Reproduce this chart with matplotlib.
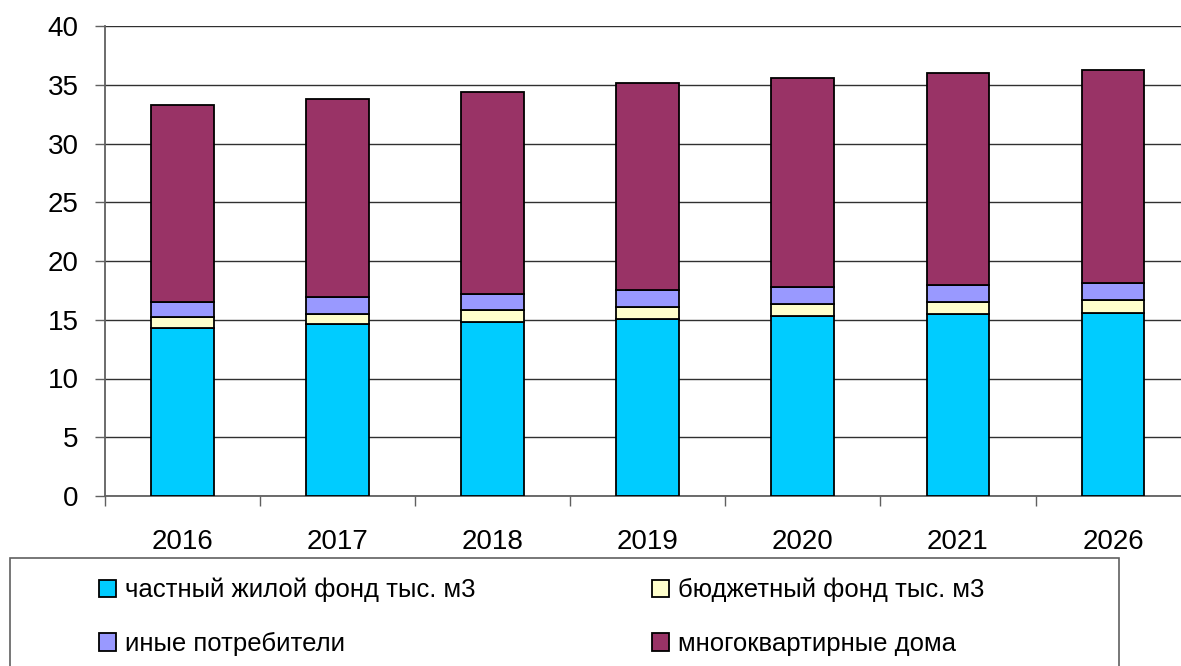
import numpy as np
import matplotlib
matplotlib.use("Agg")
from matplotlib import pyplot as plt
from matplotlib.patches import Rectangle

plt.rcParams['font.family'] = ['Liberation Sans', 'DejaVu Sans']

years = ['2016', '2017', '2018', '2019', '2020', '2021', '2026']
private_housing = [14.3, 14.65, 14.8, 15.05, 15.3, 15.5, 15.6]
budget_fund = [0.9, 0.85, 1.0, 1.05, 1.0, 1.0, 1.05]
other_consumers = [1.3, 1.45, 1.4, 1.4, 1.5, 1.5, 1.45]
apartment_blocks = [16.8, 16.85, 17.2, 17.65, 17.8, 18.0, 18.15]

labels = ['частный жилой фонд тыс. м3', 'бюджетный фонд тыс. м3',
          'иные потребители', 'многоквартирные дома']
colors = ['#00CCFF', '#FFFFCC', '#9999FF', '#993366']

W, H = 1181, 666
fig = plt.figure(figsize=(W / 100, H / 100), dpi=100)
ax = fig.add_axes([105 / W, (H - 496) / H, (1190.6 - 105) / W, (496 - 26) / H])

x = np.arange(len(years))
bottom = np.zeros(len(years))
bars = []
for vals, c, lab in zip([private_housing, budget_fund, other_consumers, apartment_blocks], colors, labels):
    b = ax.bar(x, vals, 0.405, bottom=bottom, color=c, edgecolor='black', linewidth=1.3, label=lab, zorder=3)
    bars.append(b)
    bottom += np.array(vals)

ax.set_ylim(0, 40)
ax.set_xlim(-0.5, 6.5)
ax.set_yticks(np.arange(0, 41, 5))
ax.yaxis.grid(True, color='#303030', linewidth=1.0, zorder=0)
ax.tick_params(axis='y', labelsize=20, length=7, width=1, color='#606060', pad=12)

# category boundaries as ticks, year labels centred between them
ax.set_xticks(np.arange(-0.5, 7, 1))
ax.set_xticklabels([])
ax.set_xticks(x, minor=True)
ax.set_xticklabels(years, minor=True, fontsize=20)
ax.tick_params(axis='x', which='major', length=7, width=1, color='#606060')
ax.tick_params(axis='x', which='minor', length=0, pad=24)

for s in ['top', 'right']:
    ax.spines[s].set_visible(False)
for s in ['left', 'bottom']:
    ax.spines[s].set_color('#606060')
    ax.spines[s].set_linewidth(1.3)

# legend box running off the bottom of the picture
fig.patches.append(Rectangle((10 / W, -0.05), (1119 - 10) / W, (H - 558) / H + 0.05,
                             transform=fig.transFigure, fill=False, edgecolor='#606060', linewidth=1.2))
handles = [bars[0], bars[2], bars[1], bars[3]]
leg_labels = [labels[0], labels[2], labels[1], labels[3]]
fig.legend(handles, leg_labels, loc='upper left', bbox_to_anchor=(99 / W, (H - 578) / H),
           ncol=2, frameon=False, fontsize=18.5, handlelength=0.65, handleheight=0.65,
           handletextpad=0.35, labelspacing=1.15, columnspacing=6.9, borderaxespad=0, borderpad=0)

fig.savefig('out.png', dpi=100)
